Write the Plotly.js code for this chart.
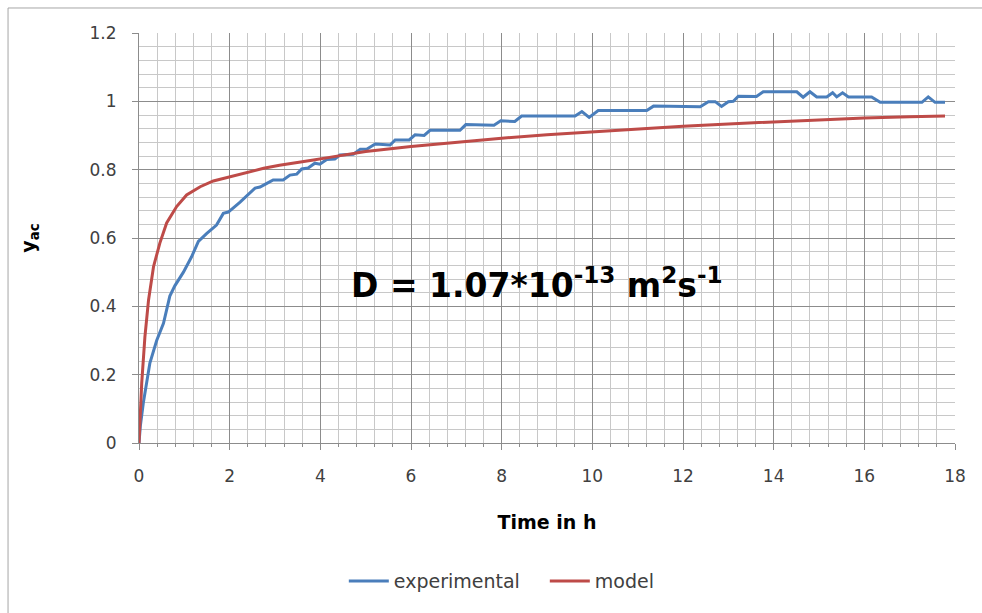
<!DOCTYPE html>
<html>
<head>
<meta charset="utf-8">
<script src="https://cdn.plot.ly/plotly-3.0.1.min.js"></script>
<style>html,body{margin:0;padding:0;background:#fff;}#chart{width:982px;height:613px;}</style>
</head>
<body>
<div id="chart"></div>
<script>
// experimental series
const expTime = [0,0.03,0.095,0.24,0.39,0.54,0.68,0.79,0.98,1.16,1.31,1.49,1.71,1.86,1.97,2.23,2.56,2.67,2.82,2.96,3.18,3.33,3.48,3.59,3.73,3.88,3.99,4.14,4.32,4.43,4.73,4.88,5.02,5.21,5.54,5.65,5.96,6.09,6.29,6.42,7.08,7.21,7.83,7.98,8.29,8.44,9.62,9.77,9.93,10.13,11.2,11.35,12.38,12.56,12.71,12.85,13.0,13.11,13.22,13.62,13.77,14.51,14.65,14.8,14.95,15.17,15.30,15.39,15.52,15.65,16.16,16.35,17.27,17.41,17.56,17.78];
const expY = [0,0.05,0.117,0.234,0.30,0.35,0.43,0.46,0.50,0.545,0.59,0.613,0.638,0.672,0.676,0.705,0.746,0.749,0.760,0.770,0.770,0.784,0.787,0.802,0.805,0.819,0.816,0.830,0.831,0.843,0.845,0.860,0.860,0.875,0.872,0.887,0.887,0.902,0.900,0.915,0.915,0.932,0.930,0.943,0.941,0.957,0.957,0.970,0.953,0.973,0.973,0.986,0.984,0.999,0.999,0.985,0.999,1.0,1.015,1.014,1.028,1.028,1.012,1.028,1.013,1.013,1.025,1.013,1.025,1.013,1.013,0.997,0.997,1.013,0.997,0.997];
// model series
const modelTime = [0,0.02,0.06,0.13,0.21,0.32,0.46,0.61,0.83,1.05,1.35,1.64,2.0,2.4,2.75,3.1,3.5,3.85,4.2,5.0,6.0,7.0,8.0,9.0,10.0,11.0,12.0,13.0,14.0,15.0,16.0,17.0,17.78];
const modelY = [0,0.08,0.175,0.31,0.418,0.516,0.585,0.644,0.692,0.726,0.750,0.767,0.779,0.794,0.804,0.813,0.820,0.828,0.836,0.853,0.868,0.881,0.892,0.902,0.911,0.919,0.927,0.934,0.940,0.946,0.951,0.955,0.957];
const seriesNames = ["experimental","model"];
const annotationText = "D = 1.07*10<sup>-13</sup> m<sup>2</sup>s<sup>-1</sup>";

const traces = [
  {x: expTime, y: expY, name: seriesNames[0], mode: "lines", line: {color: "#4a7ebb", width: 3}},
  {x: modelTime, y: modelY, name: seriesNames[1], mode: "lines", line: {color: "#be4b48", width: 3}}
];

const layout = {
  width: 982, height: 613,
  margin: {l: 139, r: 27, t: 33, b: 170},
  paper_bgcolor: "#ffffff", plot_bgcolor: "#ffffff",
  font: {family: "DejaVu Sans", size: 14, color: "#404040"},
  showlegend: true,
  legend: {orientation: "h", x: 0.251, xanchor: "left", y: -0.337, yanchor: "middle",
           font: {family: "DejaVu Sans", size: 19, color: "#404040"}, itemwidth: 40,
           entrywidth: 146, traceorder: "normal"},
  xaxis: {
    range: [0, 18], tick0: 0, dtick: 2, autorange: false,
    showgrid: true, gridcolor: "#8c8c8c", gridwidth: 1,
    showline: true, linecolor: "#8c8c8c", linewidth: 1,
    ticks: "outside", ticklen: 6, tickcolor: "#8c8c8c", ticklabelstandoff: 12,
    zeroline: false,
    tickfont: {family: "DejaVu Sans", size: 17, color: "#404040"},
    minor: {dtick: 0.4, tick0: 0, showgrid: true, gridcolor: "#c8c8c8", gridwidth: 1, ticks: "outside", ticklen: 3, tickcolor: "#8c8c8c"},
    title: {text: "<b>Time in h</b>", font: {family: "DejaVu Sans", size: 19, color: "#000"}, standoff: 30}
  },
  yaxis: {
    range: [0, 1.2], tick0: 0, dtick: 0.2, autorange: false,
    showgrid: true, gridcolor: "#8c8c8c", gridwidth: 1,
    showline: true, linecolor: "#8c8c8c", linewidth: 1,
    ticks: "outside", ticklen: 6, tickcolor: "#8c8c8c", ticklabelstandoff: 12,
    zeroline: false,
    tickfont: {family: "DejaVu Sans", size: 17, color: "#404040"},
    minor: {dtick: 0.04, tick0: 0, showgrid: true, gridcolor: "#c8c8c8", gridwidth: 1},
    title: {text: "<b>y<sub>ac</sub></b>", font: {family: "DejaVu Sans", size: 19, color: "#000"}, standoff: 48}
  },
  annotations: [{
    x: 8.78, y: 0.468, xref: "x", yref: "y", text: "<b>" + annotationText + "</b>",
    showarrow: false, xanchor: "center", yanchor: "middle",
    font: {family: "DejaVu Sans", size: 33, color: "#000"}
  }],
  shapes: [{
    type: "rect", xref: "paper", yref: "paper",
    x0: -0.1605, x1: 1.06, y0: -0.46, y1: 1.061,
    line: {color: "#a6a6a6", width: 1}, fillcolor: "rgba(0,0,0,0)", layer: "below"
  }]
};

Plotly.newPlot("chart", traces, layout, {displayModeBar: false, staticPlot: true});
</script>
</body>
</html>
